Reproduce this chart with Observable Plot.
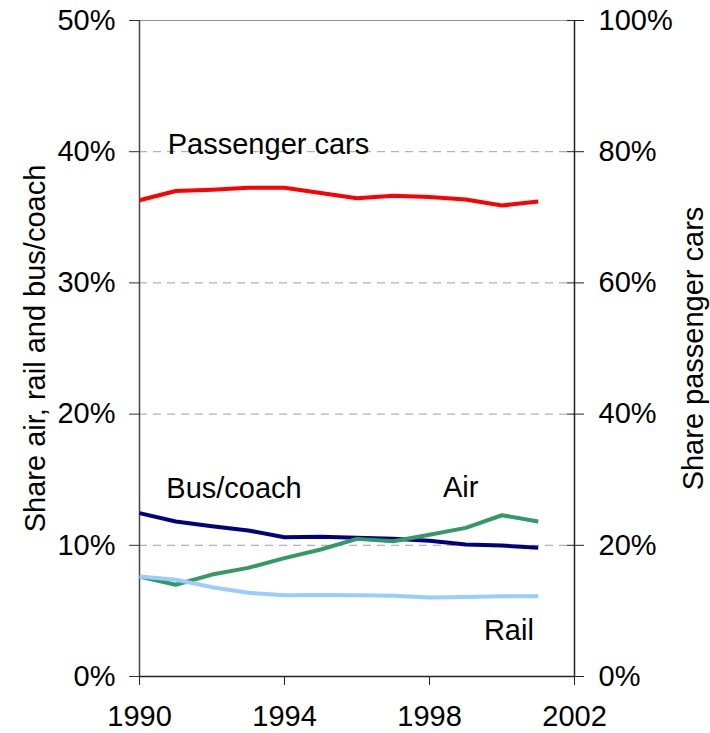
<!DOCTYPE html>
<html>
<head>
<meta charset="utf-8">
<script src="https://cdn.jsdelivr.net/npm/d3@7"></script>
<script src="https://cdn.jsdelivr.net/npm/@observablehq/plot@0.6"></script>
<style>
  html, body { margin: 0; padding: 0; background: #fff; }
</style>
</head>
<body>
<div id="chart"></div>
<script>
const years = [1990,1991,1992,1993,1994,1995,1996,1997,1998,1999,2000,2001];
// Passenger cars share (right axis, %)
const passengerCars = [72.6,74.0,74.2,74.5,74.5,73.7,72.9,73.3,73.1,72.7,71.8,72.4];
// Left axis shares (%)
const busCoach = [12.45,11.81,11.46,11.13,10.62,10.65,10.57,10.49,10.34,10.06,9.98,9.81];
const air = [7.62,6.99,7.77,8.28,9.02,9.68,10.49,10.31,10.80,11.33,12.29,11.81];
const rail = [7.62,7.37,6.81,6.38,6.20,6.22,6.20,6.15,6.02,6.05,6.12,6.12];

const leftTicks = [0,10,20,30,40,50];
const rightTicks = [0,20,40,60,80,100];
const xTicks = [1990,1994,1998,2002];
const gridValues = [10,20,30,40];

const seriesNames = ["Passenger cars","Bus/coach","Air","Rail"];
const seriesColors = ["#ff0000","#000080","#339966","#99ccff"];

// label anchors in data units (year, left-axis %)
const labelText = ["Passenger cars","Bus/coach","Air","Rail"];
const labelYear = [1990.78,1990.74,1998.37,1999.5];
const labelValue = [40.5,14.3,14.4,3.5];

const leftTitle = "Share air, rail and bus/coach";
const rightTitle = "Share passenger cars";

const FS = 29;

const rows = [];
const seriesValues = [passengerCars.map(v => v / 2), busCoach, air, rail];
seriesNames.forEach((name, i) => {
  years.forEach((yr, j) => rows.push({series: name, year: yr, value: seriesValues[i][j]}));
});
const labels = labelText.map((t, i) => ({text: t, year: labelYear[i], value: labelValue[i]}));

const chart = Plot.plot({
  width: 710,
  height: 733,
  marginLeft: 139,
  marginRight: 136,
  marginTop: 20,
  marginBottom: 57,
  style: {fontFamily: "Liberation Sans, Arial, sans-serif", fontSize: FS + "px", background: "#fff", color: "#000"},
  x: {domain: [1990, 2002]},
  y: {domain: [0, 50]},
  color: {domain: seriesNames, range: seriesColors},
  marks: [
    Plot.ruleY(gridValues, {stroke: "#a0a0a0", strokeWidth: 1, strokeDasharray: "8,6"}),
    Plot.ruleY([50], {stroke: "#909090", strokeWidth: 1.2}),
    Plot.ruleX([1990], {stroke: "#444", strokeWidth: 1.5}),
    Plot.ruleX([2002], {stroke: "#222", strokeWidth: 1.5}),
    Plot.ruleY([0], {stroke: "#222", strokeWidth: 1.5}),
    Plot.axisY({anchor: "left", ticks: leftTicks, tickFormat: d => d + "%", tickSize: 10, tickPadding: 14, label: null, fontSize: FS, stroke: "#333"}),
    Plot.axisY({anchor: "right", ticks: leftTicks, tickFormat: (d, i) => rightTicks[i] + "%", tickSize: 17, tickPadding: 15, dx: -8, label: null, fontSize: FS, stroke: "#222"}),
    Plot.axisX({ticks: xTicks, tickFormat: d => String(d), tickSize: 9, tickPadding: 20, label: null, fontSize: FS, stroke: "#222"}),
    Plot.line(rows, {x: "year", y: "value", z: "series", stroke: "series", strokeWidth: 4, strokeLinejoin: "round", strokeLinecap: "butt"}),
    Plot.text(labels, {x: "year", y: "value", text: "text", textAnchor: "start", fontSize: FS, fill: "#000"}),
    Plot.text([leftTitle], {frameAnchor: "left", textAnchor: "middle", lineAnchor: "middle", dx: -104, rotate: -90, fontSize: FS, fill: "#000"}),
    Plot.text([rightTitle], {frameAnchor: "right", textAnchor: "middle", lineAnchor: "middle", dx: 119, rotate: -90, fontSize: FS, fill: "#000"})
  ]
});
document.getElementById("chart").appendChild(chart);
</script>
</body>
</html>
